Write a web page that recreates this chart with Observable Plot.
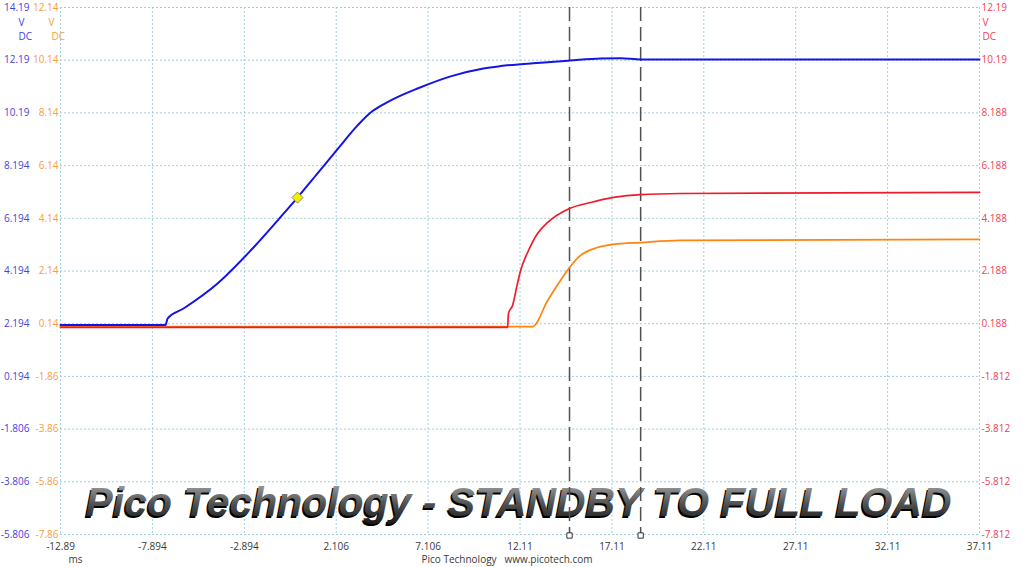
<!DOCTYPE html>
<html><head><meta charset="utf-8">
<script src="https://cdn.jsdelivr.net/npm/d3@7"></script>
<script src="https://cdn.jsdelivr.net/npm/@observablehq/plot@0.6"></script>
<style>body{margin:0;background:#fff;overflow:hidden}</style>
</head><body><div id="chart"></div>
<script>
// ---- tick values and labels ----
const xTickValues = [-12.894, -7.894, -2.894, 2.106, 7.106, 12.106, 17.106, 22.106, 27.106, 32.106, 37.106];
const xTickLabels = ["-12.89", "-7.894", "-2.894", "2.106", "7.106", "12.11", "17.11", "22.11", "27.11", "32.11", "37.11"];
const blueTickValues = [14.194, 12.194, 10.194, 8.194, 6.194, 4.194, 2.194, 0.194, -1.806, -3.806, -5.806];
const blueTickLabels = ["14.19", "12.19", "10.19", "8.194", "6.194", "4.194", "2.194", "0.194", "-1.806", "-3.806", "-5.806"];
const orangeTickLabels = ["12.14", "10.14", "8.14", "6.14", "4.14", "2.14", "0.14", "-1.86", "-3.86", "-5.86", "-7.86"];
const redTickLabels = ["12.19", "10.19", "8.188", "6.188", "4.188", "2.188", "0.188", "-1.812", "-3.812", "-5.812", "-7.812"];
const orangeOffset = 2.054; // orange axis -> blue axis
const redOffset = 2.005;    // red axis -> blue axis

// ---- series (time ms, volts) ----
const blueSeries = [
  [-12.894, 2.14], [-7.18, 2.14], [-7.07, 2.39], [-6.20, 2.77], [-4.35, 3.72], [-2.55, 4.97],
  [-0.76, 6.37], [0.00, 6.98], [1.09, 7.90], [2.18, 8.82], [3.27, 9.72], [3.98, 10.21],
  [4.68, 10.52], [5.61, 10.85], [6.53, 11.12], [8.33, 11.58], [10.12, 11.88], [11.05, 11.97],
  [13.23, 12.10], [14.80, 12.18], [16.49, 12.26], [17.58, 12.27], [18.67, 12.22], [37.106, 12.22]
];
const redSeries = [
  [-12.894, 0.05], [11.43, 0.05], [11.48, 0.58], [11.70, 0.88], [11.97, 1.72], [12.14, 2.21],
  [12.52, 2.89], [13.06, 3.61], [13.61, 4.03], [14.80, 4.56], [15.95, 4.79], [17.20, 4.98],
  [18.67, 5.09], [20.84, 5.13], [37.106, 5.17]
];
const orangeSeries = [
  [-12.894, 0.03], [12.79, 0.03], [13.61, 1.02], [14.31, 1.78], [14.80, 2.27], [15.40, 2.73],
  [16.33, 3.03], [17.20, 3.15], [18.67, 3.22], [20.84, 3.30], [37.106, 3.34]
];
const cursorTimes = [14.80, 18.67];
const markerPoint = [[0.00, 6.98]];
const titleText = "Pico Technology - STANDBY TO FULL LOAD";
const footerText = "Pico Technology   www.picotech.com";

const yTop = blueTickValues[0], yBottom = blueTickValues[blueTickValues.length - 1];
const gridColor = "#9fd0de";
const font = "Open Sans, Noto Sans, sans-serif";
const tickRows = blueTickValues.map((v, i) => ({v, b: blueTickLabels[i], o: orangeTickLabels[i], r: redTickLabels[i]}));

const chart = Plot.plot({
  width: 1023, height: 567,
  marginLeft: 60, marginRight: 44, marginTop: 7, marginBottom: 33,
  x: {domain: [xTickValues[0], xTickValues[xTickValues.length - 1]], axis: null},
  y: {domain: [yBottom, yTop], axis: null},
  style: {background: "#fff", fontFamily: font},
  marks: [
    Plot.ruleY(blueTickValues, {stroke: gridColor, strokeDasharray: "2,2", strokeWidth: 1}),
    Plot.ruleX(xTickValues, {stroke: gridColor, strokeDasharray: "2,2", strokeWidth: 1}),
    // title with 3D look
    Plot.text([titleText], {text: d => d, frameAnchor: "bottom", dx: -3, dy: -17, lineAnchor: "bottom",
      fontSize: 41, fontWeight: "bold", fontStyle: "italic", fontFamily: "Liberation Sans, Arial, sans-serif", fill: "#000"}),
    Plot.text([titleText], {text: d => d, frameAnchor: "bottom", dx: -1.5, dy: -18.5, lineAnchor: "bottom",
      fontSize: 41, fontWeight: "bold", fontStyle: "italic", fontFamily: "Liberation Sans, Arial, sans-serif", fill: "#666"}),
    // cursors
    Plot.ruleX(cursorTimes, {y1: () => yTop, y2: () => yBottom, stroke: "#505050", strokeWidth: 1.5, strokeDasharray: "14,6"}),
    Plot.dot(cursorTimes, {x: d => d, y: () => yBottom, dy: 1, symbol: "square", r: 3, fill: "#fff", stroke: "#333", strokeWidth: 1}),
    // traces
    Plot.line(orangeSeries, {x: d => d[0], y: d => d[1] + orangeOffset, stroke: "#ff8410", strokeWidth: 1.7, curve: "monotone-x"}),
    Plot.line(redSeries, {x: d => d[0], y: d => d[1] + redOffset, stroke: "#ee1c2a", strokeWidth: 1.7, curve: "monotone-x"}),
    Plot.line(blueSeries, {x: d => d[0], y: d => d[1], stroke: "#1414e6", strokeWidth: 2, curve: "monotone-x"}),
    Plot.dot(markerPoint, {x: d => d[0], y: d => d[1], symbol: "diamond2", r: 5, fill: "#f2ee00", stroke: "#8c8c60", strokeWidth: 1}),
    // left axes (blue, orange), right axis (red)
    Plot.text(tickRows, {y: "v", text: "b", frameAnchor: "left", dx: -31, textAnchor: "end", fill: "#4444dd", fontSize: 10}),
    Plot.text(tickRows, {y: "v", text: "o", frameAnchor: "left", dx: -2, textAnchor: "end", fill: "#f4a040", fontSize: 10}),
    Plot.text(tickRows, {y: "v", text: "r", frameAnchor: "right", dx: 2, textAnchor: "start", fill: "#ee4455", fontSize: 10}),
    Plot.text(["V"], {y: () => yTop, text: d => d, frameAnchor: "left", dx: -42, dy: 15, fill: "#4444dd", fontSize: 10}),
    Plot.text(["DC"], {y: () => yTop, text: d => d, frameAnchor: "left", dx: -42, dy: 29, fill: "#4444dd", fontSize: 10}),
    Plot.text(["V"], {y: () => yTop, text: d => d, frameAnchor: "left", dx: -12, dy: 15, fill: "#f4a040", fontSize: 10}),
    Plot.text(["DC"], {y: () => yTop, text: d => d, frameAnchor: "left", dx: -9, dy: 29, fill: "#f4a040", fontSize: 10}),
    Plot.text(["V"], {y: () => yTop, text: d => d, frameAnchor: "right", dx: 3, dy: 15, textAnchor: "start", fill: "#ee4455", fontSize: 10}),
    Plot.text(["DC"], {y: () => yTop, text: d => d, frameAnchor: "right", dx: 3, dy: 29, textAnchor: "start", fill: "#ee4455", fontSize: 10}),
    // x axis
    Plot.text(xTickValues, {x: d => d, text: (d, i) => xTickLabels[i], frameAnchor: "bottom", dy: 15, fill: "#3a3a3a", fontSize: 10}),
    Plot.text(["ms"], {text: d => d, frameAnchor: "bottom-left", dx: 8, dy: 28, fill: "#3a3a3a", fontSize: 10}),
    Plot.text([footerText], {text: d => d, frameAnchor: "bottom", dx: -13, dy: 28, fill: "#3a3a3a", fontSize: 10})
  ]
});
document.getElementById("chart").appendChild(chart);

// gradient fill + fixed width for the title
const svg = d3.select(chart);
const defs = svg.insert("defs", ":first-child");
const grad = defs.append("linearGradient").attr("id", "tg").attr("x1", 0).attr("y1", 0).attr("x2", 0).attr("y2", 1);
grad.append("stop").attr("offset", "0%").attr("stop-color", "#b0b0b0");
grad.append("stop").attr("offset", "55%").attr("stop-color", "#505050");
grad.append("stop").attr("offset", "100%").attr("stop-color", "#151515");
const titles = svg.selectAll("text").filter(function() { return this.textContent === titleText; });
titles.attr("textLength", 866).attr("lengthAdjust", "spacingAndGlyphs");
titles.filter((d, i, n) => i === n.length - 1).attr("fill", "url(#tg)");
</script></body></html>
